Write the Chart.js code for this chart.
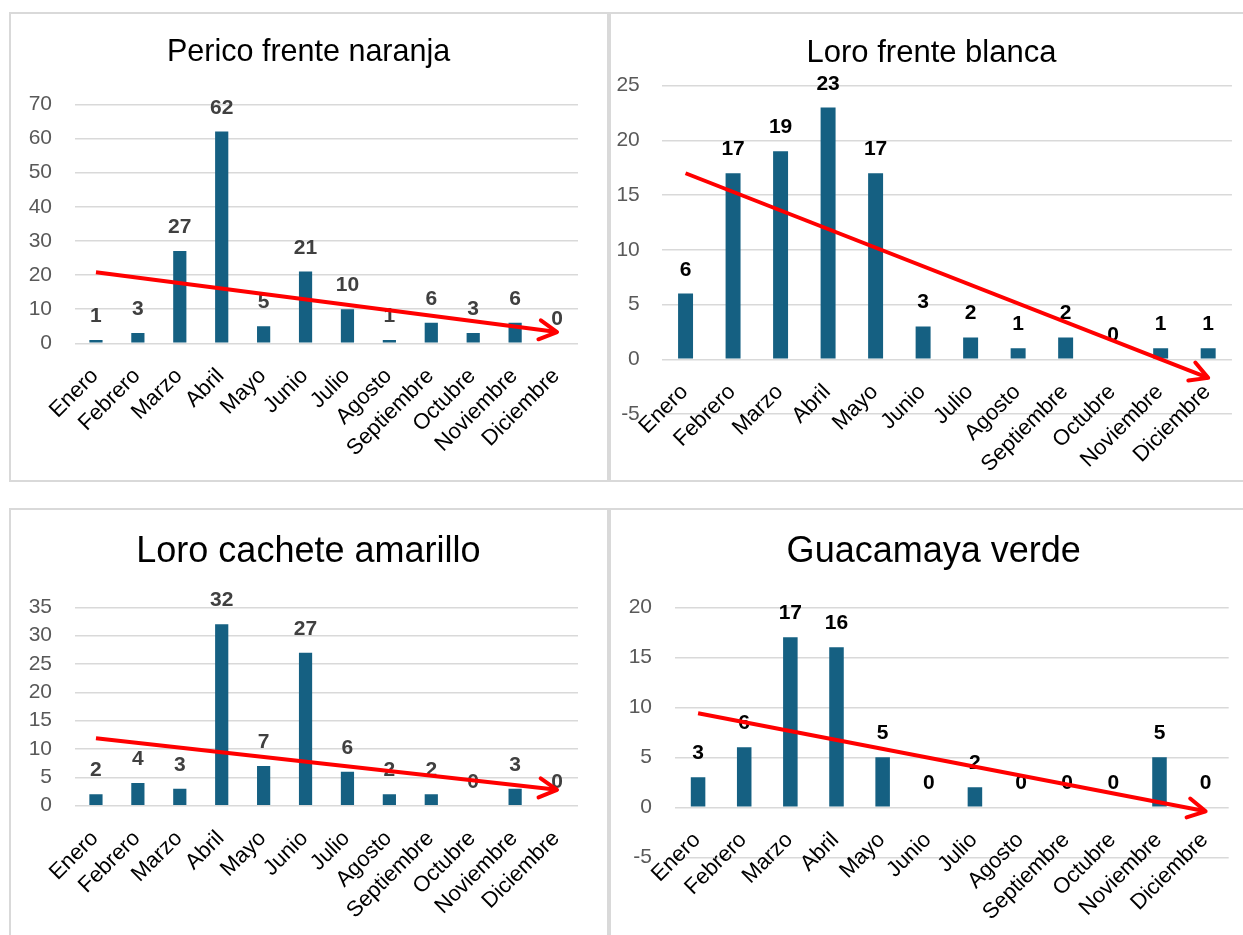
<!DOCTYPE html>
<html lang="es">
<head>
<meta charset="utf-8">
<title>Aves por mes</title>
<script src="https://cdn.jsdelivr.net/npm/chart.js@4/dist/chart.umd.min.js"></script>
<style>
	html, body {
		margin: 0;
		padding: 0;
		width: 1243px;
		height: 935px;
		overflow: hidden;
		background: #ffffff;
	}
	.panel {
		position: absolute;
		box-sizing: border-box;
		border: 2px solid #d9d9d9;
		background: #ffffff;
		overflow: hidden;
	}
	.panel canvas {
		position: absolute;
		left: 0;
		top: 0;
	}
	#p1 { left: 9px; top: 12px; width: 600px; height: 470px; }
	#p2 { left: 609px; top: 12px; width: 640px; height: 470px; }
	#p3 { left: 9px; top: 508px; width: 600px; height: 440px; }
	#p4 { left: 609px; top: 508px; width: 640px; height: 440px; }
</style>
</head>
<body>
<div class="panel" id="p1"><canvas id="chart1" width="596" height="466"></canvas></div>
<div class="panel" id="p2"><canvas id="chart2" width="636" height="466"></canvas></div>
<div class="panel" id="p3"><canvas id="chart3" width="596" height="436"></canvas></div>
<div class="panel" id="p4"><canvas id="chart4" width="636" height="436"></canvas></div>
<script>
'use strict';

const months = [
	'Enero', 'Febrero', 'Marzo', 'Abril', 'Mayo', 'Junio',
	'Julio', 'Agosto', 'Septiembre', 'Octubre', 'Noviembre', 'Diciembre',
];

// avistamientos por mes
const pericoValues = [1, 3, 27, 62, 5, 21, 10, 1, 6, 3, 6, 0];
const loroBlancaValues = [6, 17, 19, 23, 17, 3, 2, 1, 2, 0, 1, 1];
const loroCacheteValues = [2, 4, 3, 32, 7, 27, 6, 2, 2, 0, 3, 0];
const guacamayaValues = [3, 6, 17, 16, 5, 0, 2, 0, 0, 0, 5, 0];

// tendencia lineal: valor en Enero y en Diciembre
const pericoTrend = [20.8, 3.3];
const loroBlancaTrend = [17.0, -1.7];
const loroCacheteTrend = [11.9, 2.8];
const guacamayaTrend = [9.4, -0.4];

// eje y: min, max, paso
const pericoTicks = [0, 70, 10];
const loroBlancaTicks = [-5, 25, 5];
const loroCacheteTicks = [0, 35, 5];
const guacamayaTicks = [-5, 20, 5];

const BAR_COLOR = '#156082';
const FONT = '"Liberation Sans", Arial, sans-serif';

Chart.defaults.font.family = FONT;
Chart.defaults.animation = false;

// numeros encima de cada barra
function valueLabelsPlugin(color) {
	return {
		id: 'valueLabels',
		afterDatasetDraw(chart, args) {
			if (args.index !== 0) return;
			const ctx = chart.ctx;
			const values = chart.data.datasets[0].data;
			ctx.save();
			ctx.font = 'bold 21px ' + FONT;
			ctx.fillStyle = color;
			ctx.textAlign = 'center';
			ctx.textBaseline = 'alphabetic';
			args.meta.data.forEach((bar, i) => {
				ctx.fillText(String(values[i]), bar.x, bar.y - 18);
			});
			ctx.restore();
		},
	};
}

// titulo centrado sobre el panel
function titlePlugin(text, size, x, y) {
	return {
		id: 'panelTitle',
		afterDraw(chart) {
			const ctx = chart.ctx;
			ctx.save();
			ctx.font = size + 'px ' + FONT;
			ctx.fillStyle = '#000000';
			ctx.textAlign = 'center';
			ctx.textBaseline = 'middle';
			ctx.fillText(text, x, y);
			ctx.restore();
		},
	};
}

// punta de flecha al final de la tendencia
const arrowHeadPlugin = {
	id: 'arrowHead',
	afterDatasetDraw(chart, args) {
		if (args.index !== 1) return;
		const points = args.meta.data;
		const start = points[0];
		const end = points[points.length - 1];
		const angle = Math.atan2(end.y - start.y, end.x - start.x);
		const len = 20;
		const spread = 0.5;
		const ctx = chart.ctx;
		ctx.save();
		ctx.strokeStyle = '#ff0000';
		ctx.lineWidth = 4;
		ctx.lineCap = 'round';
		ctx.lineJoin = 'round';
		ctx.beginPath();
		ctx.moveTo(end.x - len * Math.cos(angle - spread), end.y - len * Math.sin(angle - spread));
		ctx.lineTo(end.x, end.y);
		ctx.lineTo(end.x - len * Math.cos(angle + spread), end.y - len * Math.sin(angle + spread));
		ctx.stroke();
		ctx.restore();
	},
};

function displayChart(cfg) {
	const ctx = document.getElementById(cfg.canvasId).getContext('2d');
	const [yMin, yMax, yStep] = cfg.ticks;
	new Chart(ctx, {
		type: 'bar',
		data: {
			labels: months,
			datasets: [
				{
					type: 'bar',
					data: cfg.values,
					backgroundColor: BAR_COLOR,
					categoryPercentage: 1,
					barPercentage: 0.315,
					order: 1,
				},
				{
					type: 'line',
					data: [
						{ x: months[0], y: cfg.trend[0] },
						{ x: months[months.length - 1], y: cfg.trend[1] },
					],
					borderColor: '#ff0000',
					borderWidth: 4,
					pointRadius: 0,
					tension: 0,
					fill: false,
					order: 0,
				},
			],
		},
		options: {
			responsive: false,
			devicePixelRatio: 1,
			layout: { padding: cfg.padding },
			plugins: {
				legend: { display: false },
				tooltip: { enabled: false },
				title: { display: false },
			},
			scales: {
				x: {
					position: { y: 0 },
					grid: { display: false, drawTicks: false },
					border: { display: false },
					ticks: {
						autoSkip: false,
						minRotation: 45,
						maxRotation: 45,
						padding: 20,
						labelOffset: -1,
						color: '#000000',
						font: { size: 22 },
					},
				},
				y: {
					position: 'left',
					min: yMin,
					max: yMax,
					grid: { color: '#d9d9d9', lineWidth: 1.5, drawTicks: false },
					border: { display: false },
					ticks: {
						stepSize: yStep,
						padding: cfg.yPadding,
						color: '#595959',
						font: { size: 21 },
					},
					afterFit(scale) {
						scale.width = cfg.yWidth;
					},
				},
			},
		},
		plugins: [
			valueLabelsPlugin(cfg.labelColor),
			arrowHeadPlugin,
			titlePlugin(cfg.title, cfg.titleSize, cfg.titleX, cfg.titleY),
		],
	});
}

function generateCharts() {
	displayChart({
		canvasId: 'chart1',
		title: 'Perico frente naranja',
		values: pericoValues,
		trend: pericoTrend,
		ticks: pericoTicks,
		labelColor: '#404040',
		titleSize: 30.5,
		titleX: 297.6,
		titleY: 39,
		padding: { left: 0, right: 29, top: 90.3, bottom: 136.7 },
		yWidth: 64,
		yPadding: 23,
	});
	displayChart({
		canvasId: 'chart2',
		title: 'Loro frente blanca',
		values: loroBlancaValues,
		trend: loroBlancaTrend,
		ticks: loroBlancaTicks,
		labelColor: '#000000',
		titleSize: 31,
		titleX: 320.5,
		titleY: 39,
		padding: { left: 0, right: 3.8, top: 71.7, bottom: 66 },
		yWidth: 50.8,
		yPadding: 22,
	});
	displayChart({
		canvasId: 'chart3',
		title: 'Loro cachete amarillo',
		values: loroCacheteValues,
		trend: loroCacheteTrend,
		ticks: loroCacheteTicks,
		labelColor: '#404040',
		titleSize: 36,
		titleX: 297.4,
		titleY: 42,
		padding: { left: 0, right: 29, top: 97.3, bottom: 140.3 },
		yWidth: 64,
		yPadding: 23,
	});
	displayChart({
		canvasId: 'chart4',
		title: 'Guacamaya verde',
		values: guacamayaValues,
		trend: guacamayaTrend,
		ticks: guacamayaTicks,
		labelColor: '#000000',
		titleSize: 36,
		titleX: 322.7,
		titleY: 42,
		padding: { left: 0, right: 18.3, top: 97.3, bottom: 88.7 },
		yWidth: 64,
		yPadding: 23,
	});
}

generateCharts();
</script>
</body>
</html>
